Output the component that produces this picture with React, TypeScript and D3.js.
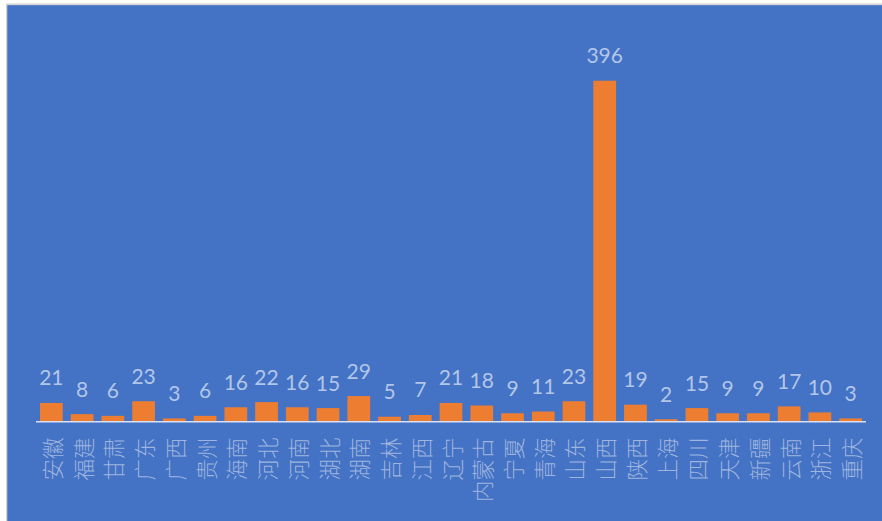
import React from "react";
import * as d3 from "d3";

const categories = ["安徽","福建","甘肃","广东","广西","贵州","海南","河北","河南","湖北","湖南","吉林","江西","辽宁","内蒙古","宁夏","青海","山东","山西","陕西","上海","四川","天津","新疆","云南","浙江","重庆"];
const values = [21,8,6,23,3,6,16,22,16,15,29,5,7,21,18,9,11,23,396,19,2,15,9,9,17,10,3];

const W = 882, H = 521;
const axisY = 421;
const x0 = 36, x1 = 866;

export default function App() {
  const x = d3.scaleBand<string>().domain(categories).range([x0, x1]).paddingInner(0.26).paddingOuter(0.13);
  const y = d3.scaleLinear().domain([0, 396]).range([axisY, 80.7]);
  return (
    <div>
      <style>{"body{margin:0}"}</style>
      <svg width={W} height={H} style={{ display: "block" }}>
        <rect x={0} y={0} width={W} height={H} fill="#ffffff" />
        <rect x={6} y={3.5} width={W - 6} height={H - 3.5} fill="#d2d2d2" />
        <rect x={7.3} y={5.2} width={W - 7.3} height={H - 5.2} fill="#4472c4" />
        {categories.map((c, i) => {
          const bx = x(c)!;
          const bw = x.bandwidth();
          const cx = bx + bw / 2;
          const top = y(values[i]);
          return (
            <g key={c}>
              <rect x={bx} y={top} width={bw} height={axisY - top} fill="#ed7d31" />
              <text x={cx} y={top - 17.5} textAnchor="middle" fill="#b2c6e9" fontFamily="Lato, 'Open Sans', sans-serif" fontSize={21}>{values[i]}</text>
              <text transform={`translate(${cx},437.5) rotate(-90)`} textAnchor="end" dominantBaseline="central" fill="#9fb5df" fontFamily="'Noto Sans CJK SC', sans-serif" fontWeight={300} fontSize={21.5}>{c}</text>
            </g>
          );
        })}
        <line x1={x0} x2={x1} y1={axisY + 0.7} y2={axisY + 0.7} stroke="#d9e1f2" strokeWidth={1.5} />
      </svg>
    </div>
  );
}
